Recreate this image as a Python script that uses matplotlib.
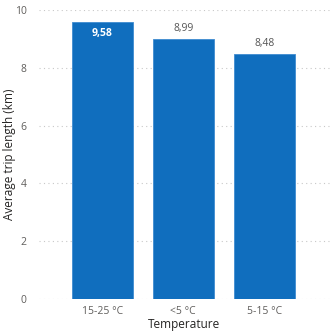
import matplotlib.pyplot as plt

categories = ["15-25 °C", "<5 °C", "5-15 °C"]
avg_trip = [9.58, 8.99, 8.48]
labels = ["9,58", "8,99", "8,48"]
yticks = [0, 2, 4, 6, 8, 10]

plt.rcParams['font.family'] = ['Open Sans', 'DejaVu Sans']

fig = plt.figure(figsize=(3.33, 3.34), dpi=100)
ax = fig.add_axes([39/333, 35/334, (330-39)/333, (299-10)/334])

x = range(len(categories))
ax.bar(x, avg_trip, width=0.75, color="#106EBE", edgecolor="#3F8BD0", linewidth=0.6, zorder=2)

# data labels: first inside (white), the rest above
for i, (v, t) in enumerate(zip(avg_trip, labels)):
    if i == 0:
        ax.text(i, v - 0.22, t, ha="center", va="top", color="white",
                fontsize=7.5, fontweight="bold")
    else:
        ax.text(i, v + 0.18, t, ha="center", va="bottom", color="#555555", fontsize=7.5)

ax.set_ylim(0, 10)
ax.set_xlim(-0.78, 2.81)
ax.set_yticks(yticks)
ax.set_yticklabels([str(t) for t in yticks])
ax.set_xticks(list(x))
ax.set_xticklabels(categories)
ax.tick_params(axis="both", length=0, labelsize=7.5, labelcolor="#605E5C")
ax.tick_params(axis="y", pad=9)
ax.tick_params(axis="x", pad=5)
ax.yaxis.grid(True, linestyle=(0, (1, 3)), color="#C8C8C8", linewidth=0.8, zorder=0)
for s in ax.spines.values():
    s.set_visible(False)

ax.set_ylabel("Average trip length (km)", fontsize=8.5, color="#252423")
ax.yaxis.set_label_coords(-23/291, 0.5)
ax.set_xlabel("Temperature", fontsize=8.5, color="#252423", labelpad=1)

fig.savefig("out.png", dpi=100)
